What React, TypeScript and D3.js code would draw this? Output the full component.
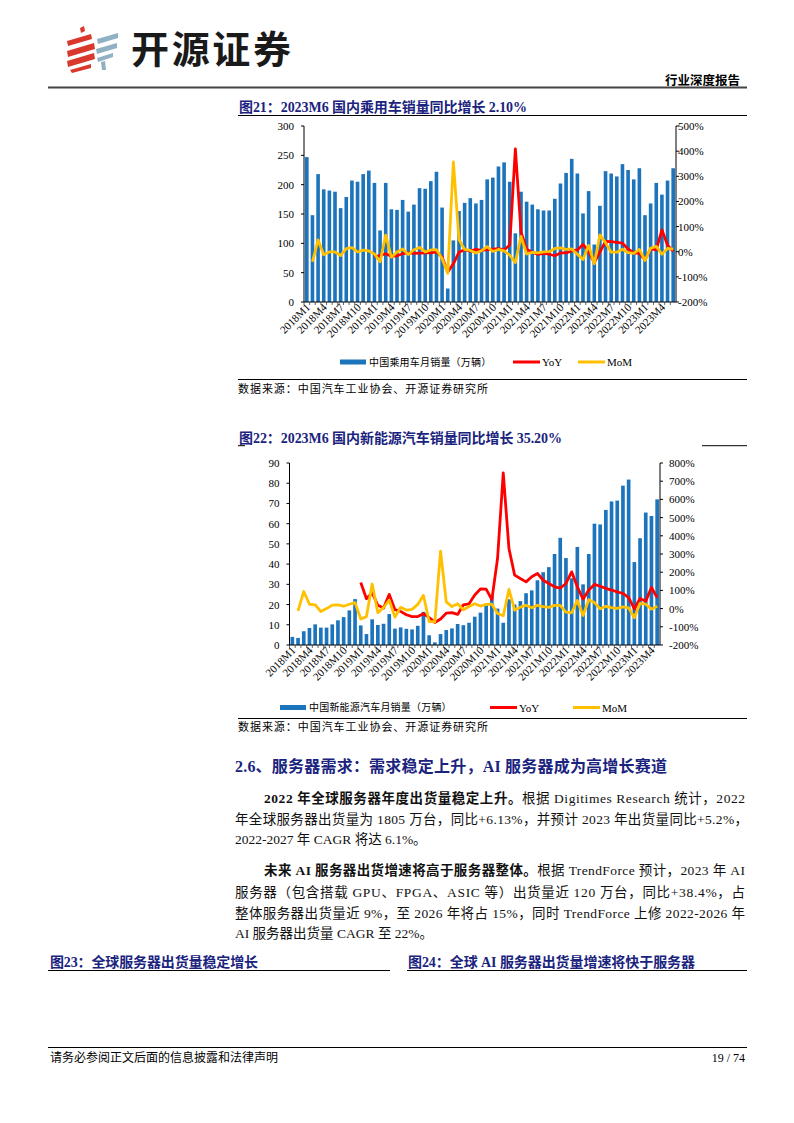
import React from 'react';
import * as d3 from 'd3';

// ---------- DATA ----------
const YEARS = [2018, 2019, 2020, 2021, 2022, 2023];
function monthCats(lastMonth2023: number): string[] {
  const out: string[] = [];
  YEARS.forEach(y => {
    for (let m = 1; m <= 12; m++) {
      if (y === 2023 && m > lastMonth2023) break;
      out.push(`${y}M${m}`);
    }
  });
  return out;
}
const carMonths = monthCats(6);
const nevMonths = monthCats(5);

const carSales = [
  247, 148, 218, 192, 190, 188, 160, 179, 207, 205, 218, 224,
  203, 122, 203, 158, 157, 174, 154, 166, 194, 193, 206, 222,
  161, 23, 105, 155, 169, 177, 168, 174, 209, 212, 231, 238,
  205, 117, 188, 171, 166, 158, 156, 156, 176, 202, 220, 244,
  219, 151, 189, 98, 164, 223, 219, 214, 235, 225, 209, 228,
  148, 168, 203, 183, 207, 228,
];
const carYoY: (number | null)[] = [
  null, null, null, null, null, null, null, null, null, null, null, null,
  -20, -15, -8, -18, -16, -8, -5, -7, -6, -5, -5, -1,
  -21, -81, -48, -2, 8, 2, 9, 5, 8, 10, 12, 7,
  27, 409, 79, 10, -2, -11, -7, -10, -16, -5, -5, 3,
  7, 29, 1, -43, -1, 41, 40, 37, 34, 11, -5, -7,
  -32, 11, 7, 87, 26, 2.1,
];
const carMoM: (number | null)[] = [
  null, -40, 47, -12, -1, -1, -15, 12, 16, -1, 6, 3,
  -9, -40, 66, -22, -1, 11, -11, 8, 17, -1, 7, 8,
  -27, -86, 357, 48, 9, 5, -5, 4, 20, 1, 9, 3,
  -14, -43, 61, -9, -3, -5, -1, 0, 13, 15, 9, 11,
  -10, -31, 25, -48, 67, 36, -2, -2, 10, -4, -7, 9,
  -35, 14, 21, -10, 13, 10,
];

const nevSales = [
  4.0, 3.5, 6.8, 8.4, 10.2, 8.6, 8.6, 10.2, 12.2, 13.8, 17.1, 22.7,
  9.7, 5.4, 12.7, 9.9, 10.5, 15.3, 8.1, 8.7, 8.0, 7.7, 9.5, 16.4,
  4.8, 1.3, 5.4, 7.4, 8.2, 10.4, 9.8, 11.0, 14.0, 16.0, 19.7, 24.5,
  18.0, 11.0, 22.6, 20.0, 21.7, 25.6, 27.0, 32.0, 36.0, 38.5, 45.0, 53.0,
  43.0, 33.0, 48.5, 30.0, 45.0, 60.0, 59.6, 66.8, 71.0, 71.4, 78.8, 81.8,
  41.0, 52.8, 65.5, 63.8, 72.0,
];
const nevYoY: (number | null)[] = [
  null, null, null, null, null, null, null, null, null, null, null, null,
  143, 54, 87, 18, 3, 78, -6, -15, -34, -44, -44, -28,
  -50, -76, -57, -25, -22, -32, 21, 26, 75, 108, 107, 49,
  275, 746, 330, 184, 165, 147, 175, 193, 156, 138, 120, 113,
  138, 202, 120, 52, 102, 133, 123, 111, 102, 92, 83, 60,
  -2, 56, 41, 116, 60,
];
const nevMoM: (number | null)[] = [
  null, -12, 94, 24, 21, -16, 0, 19, 20, 13, 24, 33,
  -57, -44, 135, -22, 6, 46, -47, 7, -8, -4, 23, 73,
  -71, -73, 315, 37, 11, 27, -6, 12, 27, 14, 23, 24,
  -27, -39, 105, -9, 8, 18, 5, 18, 11, 7, 18, 18,
  -19, -23, 45, -38, 49, 33, -1, 12, 6, 1, 10, 4,
  -50, 29, 24, -3, 13,
];

const carLeftTicks = [0, 50, 100, 150, 200, 250, 300];
const nevLeftTicks = [0, 10, 20, 30, 40, 50, 60, 70, 80, 90];
const carRightTicks = [-200, -100, 0, 100, 200, 300, 400, 500];
const nevRightTicks = [-200, -100, 0, 100, 200, 300, 400, 500, 600, 700, 800];

// ---------- STYLE ----------
const SERIF = "'Liberation Serif', 'Noto Sans CJK SC', serif";
const NAVY = '#1A237E';
const BAR = '#1C74BC';
const RED = '#FF0000';
const YEL = '#FFC000';

type Part = { t: string; b?: boolean };
function Line({ x, y, w, parts, size = 13.5, fill = '#111', anchor = 'start', bold = false }: any) {
  const props: any = {};
  if (w) { props.textLength = w; props.lengthAdjust = 'spacing'; }
  return (
    <text x={x} y={y} fontSize={size} fill={fill} fontFamily={SERIF} textAnchor={anchor}
      fontWeight={bold ? 700 : 400} {...props}>
      {(parts as Part[]).map((p, i) => (
        <tspan key={i} fontWeight={p.b || bold ? 700 : 400}>{p.t}</tspan>
      ))}
    </text>
  );
}

function Chart({ cfg }: any) {
  const { cats, sales, yoy, mom, left, right, top, bottom, lTicks, rTicks, rLabelX, legend } = cfg;
  const x = d3.scaleBand<string>().domain(cats).range([left, right]).paddingInner(0.36).paddingOuter(0.18);
  const yL = d3.scaleLinear().domain([0, lTicks[lTicks.length - 1]]).range([bottom, top]);
  const yR = d3.scaleLinear().domain([rTicks[0], rTicks[rTicks.length - 1]]).range([bottom, top]);
  const cx = (i: number) => (x(cats[i]) as number) + x.bandwidth() / 2;
  const lg = d3.line<number | null>().defined(d => d != null).x((_d, i) => cx(i)).y(d => yR(d as number)).curve(d3.curveLinear);
  const step = x.step();
  return (
    <g>
      {sales.map((v: number, i: number) => (
        <rect key={i} x={x(cats[i])} y={yL(v)} width={x.bandwidth()} height={bottom - yL(v)} fill={BAR} />
      ))}
      <path d={lg(yoy) || ''} fill="none" stroke={RED} strokeWidth={2.8} strokeLinejoin="round" />
      <path d={lg(mom) || ''} fill="none" stroke={YEL} strokeWidth={2.8} strokeLinejoin="round" />
      {/* axes */}
      <line x1={left} x2={left} y1={top} y2={bottom} stroke="#000" strokeWidth={1} />
      <line x1={right} x2={right} y1={top} y2={bottom} stroke="#000" strokeWidth={1} />
      <line x1={left} x2={right} y1={bottom} y2={bottom} stroke="#000" strokeWidth={1} />
      {lTicks.map((t: number) => (
        <g key={'l' + t}>
          <line x1={left - 3} x2={left} y1={yL(t)} y2={yL(t)} stroke="#000" />
          <text x={left - 10} y={yL(t) + 4} fontSize={11} fontFamily={SERIF} textAnchor="end" fill="#000">{t}</text>
        </g>
      ))}
      {rTicks.map((t: number) => (
        <g key={'r' + t}>
          <line x1={right} x2={right + 3} y1={yR(t)} y2={yR(t)} stroke="#000" />
          <text x={rLabelX} y={yR(t) + 4} fontSize={11} fontFamily={SERIF} textAnchor="start" fill="#000">{t + '%'}</text>
        </g>
      ))}
      {cats.map((_c: string, i: number) => (
        <line key={'bt' + i} x1={left + step * (i + 0.18 - 0.18) + step * 0} x2={left + step * i} y1={bottom} y2={bottom + 3} stroke="#000" strokeWidth={0.6} />
      ))}
      {cats.map((c: string, i: number) => i % 3 === 0 ? (
        <text key={'xl' + i} transform={`translate(${cx(i) + 4},${bottom + 6}) rotate(-45)`} fontSize={11}
          fontFamily={SERIF} textAnchor="end" fill="#000">{c}</text>
      ) : null)}
      {/* legend */}
      <rect x={legend.bx} y={legend.y - 2.5} width={26} height={5} fill={BAR} />
      <text x={legend.bx + 29} y={legend.y + 3.5} fontSize={10} fontFamily={SERIF} fill="#000" letterSpacing={0.2}>{legend.label}</text>
      <line x1={legend.rx} x2={legend.rx + 27} y1={legend.y} y2={legend.y} stroke={RED} strokeWidth={3} />
      <text x={legend.rx + 29} y={legend.y + 4} fontSize={11} fontFamily={SERIF} fill="#000">YoY</text>
      <line x1={legend.mx} x2={legend.mx + 27} y1={legend.y} y2={legend.y} stroke={YEL} strokeWidth={3} />
      <text x={legend.mx + 29} y={legend.y + 4} fontSize={11} fontFamily={SERIF} fill="#000">MoM</text>
    </g>
  );
}

export default function App() {
  const chart1 = {
    cats: carMonths, sales: carSales, yoy: carYoY, mom: carMoM,
    left: 304, right: 676, top: 126, bottom: 302,
    lTicks: carLeftTicks, rTicks: carRightTicks, rLabelX: 678,
    legend: { y: 362, bx: 340, rx: 513, mx: 578, label: '中国乘用车月销量（万辆）' },
  };
  const chart2 = {
    cats: nevMonths, sales: nevSales, yoy: nevYoY, mom: nevMoM,
    left: 289.5, right: 660, top: 463, bottom: 645,
    lTicks: nevLeftTicks, rTicks: nevRightTicks, rLabelX: 669,
    legend: { y: 707.5, bx: 280, rx: 490, mx: 573, label: '中国新能源汽车月销量（万辆）' },
  };
  return (
    <svg width={794} height={1123} viewBox="0 0 794 1123" style={{ position: 'absolute', left: 0, top: 0, background: '#fff' }}>
      <rect x={0} y={0} width={794} height={1123} fill="#fff" />
      {/* logo */}
      <g>
        <path d="M80,28 L84,26 L85,31 L81,33 Z" fill="#D9382D" />
        <path d="M67,41 L91,34 L92,39 L68,46 Z" fill="#D9382D" />
        <path d="M67,51 L94,43 L95,49 L68,57 Z" fill="#D9382D" />
        <path d="M67,61 L94,53 L95,59 L68,67 Z" fill="#D9382D" />
        <path d="M70,70 L91,64 L91,68 L72,73 Z" fill="#D9382D" />
        <path d="M97,39 L118,33 L118,38 L98,44 Z" fill="#8FB1C3" />
        <path d="M96,49 L117,43 L117,48 L97,54 Z" fill="#8FB1C3" />
        <path d="M97,58 L113,53 L113,57 L98,62 Z" fill="#8FB1C3" />
        <path d="M101,62 L105,61 L106,70 L102,70 Z" fill="#8FB1C3" />
      </g>
      <text x={131} y={63} fontSize={38} fontWeight={700} fontFamily="'Noto Sans CJK SC', sans-serif" fill="#1a1a1a"
        textLength={160} lengthAdjust="spacing">开源证券</text>
      <Line x={740} y={84.5} parts={[{ t: '行业深度报告', b: true }]} size={12.5} fill="#000" anchor="end" />
      <line x1={48} x2={747} y1={87.5} y2={87.5} stroke="#444" strokeWidth={2} />

      {/* chart 1 */}
      <Line x={239} y={111.5} w={288} parts={[{ t: '图21：2023M6 国内乘用车销量同比增长 2.10%', b: true }]} size={14} fill={NAVY} />
      <line x1={238} x2={747} y1={115.5} y2={115.5} stroke="#000" strokeWidth={1} />
      <Chart cfg={chart1} />
      <line x1={238} x2={747} y1={379.5} y2={379.5} stroke="#000" strokeWidth={1} />
      <Line x={238} y={393} w={250} parts={[{ t: '数据来源：中国汽车工业协会、开源证券研究所' }]} size={11} fill="#000" />

      {/* chart 2 */}
      <Line x={239} y={442.5} w={323} parts={[{ t: '图22：2023M6 国内新能源汽车销量同比增长 35.20%', b: true }]} size={14} fill={NAVY} />
      <line x1={238} x2={245} y1={445.7} y2={445.7} stroke="#000" strokeWidth={1} />
      <line x1={702} x2={747} y1={445.7} y2={445.7} stroke="#000" strokeWidth={1} />
      <Chart cfg={chart2} />
      <line x1={238} x2={747} y1={718.5} y2={718.5} stroke="#000" strokeWidth={1} />
      <Line x={238} y={731} w={250} parts={[{ t: '数据来源：中国汽车工业协会、开源证券研究所' }]} size={11} fill="#000" />

      {/* section text */}
      <Line x={235} y={772} w={432} parts={[{ t: '2.6、服务器需求：需求稳定上升，AI 服务器成为高增长赛道', b: true }]} size={16} fill={NAVY} />
      <Line x={264} y={803} w={481} parts={[{ t: '2022 年全球服务器年度出货量稳定上升。', b: true }, { t: '根据 Digitimes Research 统计，2022' }]} />
      <Line x={235} y={824} w={513} parts={[{ t: '年全球服务器出货量为 1805 万台，同比+6.13%，并预计 2023 年出货量同比+5.2%，' }]} />
      <Line x={235} y={844} parts={[{ t: '2022-2027 年 CAGR 将达 6.1%。' }]} />
      <Line x={264} y={875} w={481} parts={[{ t: '未来 AI 服务器出货增速将高于服务器整体。', b: true }, { t: '根据 TrendForce 预计，2023 年 AI' }]} />
      <Line x={235} y={897} w={510} parts={[{ t: '服务器（包含搭载 GPU、FPGA、ASIC 等）出货量近 120 万台，同比+38.4%，占' }]} />
      <Line x={235} y={918} w={510} parts={[{ t: '整体服务器出货量近 9%，至 2026 年将占 15%，同时 TrendForce 上修 2022-2026 年' }]} />
      <Line x={235} y={938} parts={[{ t: 'AI 服务器出货量 CAGR 至 22%。' }]} />

      <Line x={50} y={967} w={208} parts={[{ t: '图23：全球服务器出货量稳定增长', b: true }]} size={14} fill={NAVY} />
      <line x1={48} x2={390} y1={970.5} y2={970.5} stroke="#000" strokeWidth={1} />
      <Line x={408} y={967} w={287} parts={[{ t: '图24：全球 AI 服务器出货量增速将快于服务器', b: true }]} size={14} fill={NAVY} />
      <line x1={407} x2={747} y1={970.5} y2={970.5} stroke="#000" strokeWidth={1} />

      {/* footer */}
      <line x1={48} x2={747} y1={1047.5} y2={1047.5} stroke="#000" strokeWidth={1} />
      <Line x={50} y={1062} parts={[{ t: '请务必参阅正文后面的信息披露和法律声明' }]} size={12} fill="#000" />
      <Line x={745} y={1062} parts={[{ t: '19 / 74' }]} size={12} fill="#000" anchor="end" />
    </svg>
  );
}
